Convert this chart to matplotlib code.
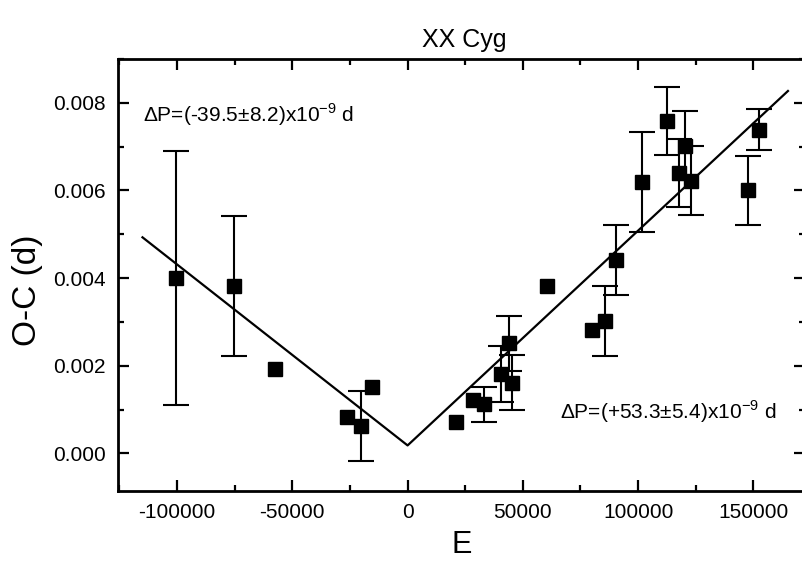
import numpy as np
import matplotlib
matplotlib.use("Agg")
import matplotlib.pyplot as plt
from matplotlib.ticker import MultipleLocator, FormatStrFormatter

plt.rcParams['font.family'] = ['Liberation Sans', 'DejaVu Sans']
plt.rcParams['mathtext.fontset'] = 'custom'
plt.rcParams['mathtext.rm'] = 'Liberation Sans'
plt.rcParams['axes.unicode_minus'] = False

# epochs, O-C values (d) and their errors (0 = no error bar)
epoch = np.array([-100400, -75150, -57640, -26400, -20340, -15300, 20860, 28500,
                  33260, 40500, 44100, 45270, 60450, 80100, 85700, 90200,
                  101800, 112500, 117600, 120400, 123000, 147600, 152250])
oc = np.array([0.00401, 0.00381, 0.00192, 0.00082, 0.00063, 0.00152, 0.00072, 0.00122,
               0.00112, 0.00181, 0.00251, 0.00161, 0.00381, 0.00282, 0.00302, 0.00441,
               0.00620, 0.00759, 0.00640, 0.00702, 0.00622, 0.00600, 0.00739])
oc_err = np.array([0.0029, 0.0016, 0, 0, 0.0008, 0, 0, 0,
                   0.0004, 0.00064, 0.00063, 0.00063, 0, 0, 0.00079, 0.00079,
                   0.00114, 0.00077, 0.00078, 0.00079, 0.00079, 0.00079, 0.00047])

# broken-line fit
fit_epoch = [-115000, 0, 165000]
fit_oc = [0.00493, 0.00018, 0.00827]

label_left = r'ΔP=(-39.5±8.2)x10$^{\mathregular{-9}}$ d'
label_right = r'ΔP=(+53.3±5.4)x10$^{\mathregular{-9}}$ d'

fig = plt.figure(figsize=(8.03, 5.63), dpi=100)
ax = fig.add_axes([0.1473, 0.1279, 0.8555, 0.7673])

ax.plot(fit_epoch, fit_oc, color='black', lw=1.6)

has_err = oc_err > 0
ax.errorbar(epoch[has_err], oc[has_err], yerr=oc_err[has_err], fmt='s', color='black',
            ms=9.5, elinewidth=1.5, capsize=9.5, capthick=1.5)
ax.plot(epoch[~has_err], oc[~has_err], 's', color='black', ms=9.5)

ax.set_xlim(-125500, 172500)
ax.set_ylim(-0.00086, 0.009)

ax.xaxis.set_major_locator(MultipleLocator(50000))
ax.xaxis.set_minor_locator(MultipleLocator(25000))
ax.yaxis.set_major_locator(MultipleLocator(0.002))
ax.yaxis.set_minor_locator(MultipleLocator(0.001))
ax.yaxis.set_major_formatter(FormatStrFormatter('%.3f'))

ax.tick_params(which='both', direction='in', top=True, right=True, width=1.6)
ax.tick_params(which='major', length=8, labelsize=15, pad=9)
ax.tick_params(which='minor', length=4.5)
for s in ax.spines.values():
    s.set_linewidth(2)

ax.text(0.0364, 0.855, label_left, transform=ax.transAxes, fontsize=15, va='baseline')
ax.text(0.643, 0.168, label_right, transform=ax.transAxes, fontsize=15, va='baseline')

fig.text(0.578, 0.929, 'XX Cyg', fontsize=18, ha='center', va='center')
fig.text(0.575, 0.032, 'E', fontsize=22, ha='center', va='center')
fig.text(0.034, 0.485, 'O-C (d)', fontsize=24, ha='center', va='center', rotation=90)

fig.savefig('out.png', dpi=100)
